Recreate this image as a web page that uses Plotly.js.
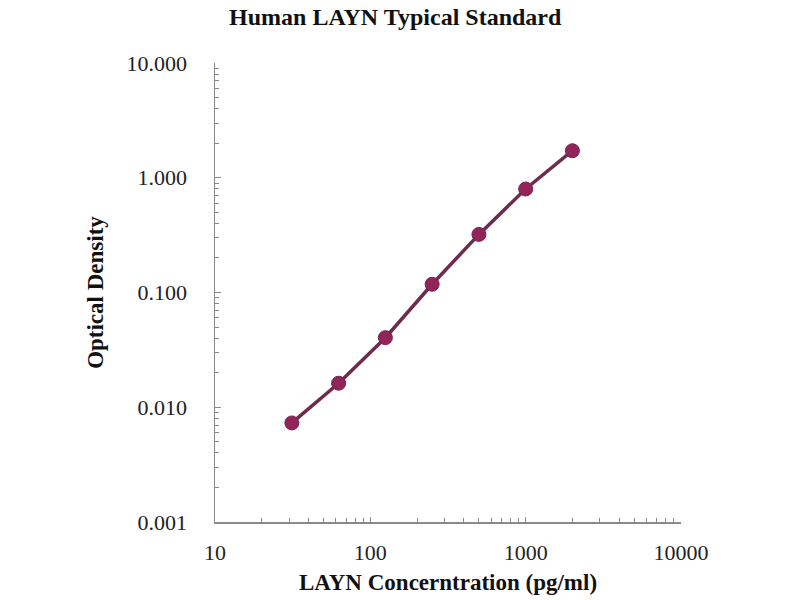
<!DOCTYPE html>
<html>
<head>
<meta charset="utf-8">
<script src="https://cdn.plot.ly/plotly-3.0.1.min.js"></script>
<style>html,body{margin:0;padding:0;background:#fff;}#chart{width:800px;height:600px;}</style>
</head>
<body>
<div id="chart"></div>
<script>
const concentration = [31.25, 62.5, 125, 250, 500, 1000, 2000];
const opticalDensity = [0.0073, 0.0162, 0.0404, 0.118, 0.321, 0.798, 1.72];
const yTickVals = [0.001, 0.01, 0.1, 1, 10];
const xTickVals = [10, 100, 1000, 10000];

const serif = "Liberation Serif, Times New Roman, serif";

const traces = [{
  x: concentration,
  y: opticalDensity,
  mode: 'lines+markers',
  type: 'scatter',
  line: {color: '#6e2b4c', width: 3.5},
  marker: {color: '#912559', size: 14, line: {color: '#7a2350', width: 1}},
  showlegend: false,
  hoverinfo: 'x+y'
}];

const layout = {
  width: 800, height: 600,
  paper_bgcolor: '#fff', plot_bgcolor: '#fff',
  margin: {l: 215, r: 119, t: 63, b: 78},
  title: {text: '<b>Human LAYN Typical Standard</b>', x: 0.494, xanchor: 'center', y: 0.972, yanchor: 'middle',
          font: {family: serif, size: 24, color: '#111'}},
  xaxis: {
    type: 'log', range: [1, 4],
    tickvals: xTickVals, ticktext: xTickVals.map(String),
    showgrid: false, zeroline: false,
    showline: true, linecolor: '#8a8a8a', linewidth: 1.5,
    ticks: 'inside', ticklen: 5, tickcolor: '#8a8a8a',
    minor: {ticks: 'inside', ticklen: 4, tickcolor: '#8a8a8a', dtick: 'D1', showgrid: false},
    ticklabelstandoff: 10,
    tickfont: {family: serif, size: 22, color: '#222'},
    title: {text: '<b>LAYN Concerntration (pg/ml)</b>', standoff: 10, font: {family: serif, size: 23, color: '#111'}}
  },
  yaxis: {
    type: 'log', range: [-3, 1],
    tickvals: yTickVals, ticktext: yTickVals.map(v => v.toFixed(3)),
    showgrid: false, zeroline: false,
    showline: true, linecolor: '#8a8a8a', linewidth: 1.5,
    ticks: 'inside', ticklen: 6, tickcolor: '#8a8a8a',
    minor: {ticks: 'inside', ticklen: 4, tickcolor: '#8a8a8a', dtick: 'D1', showgrid: false},
    ticklabelstandoff: 22,
    tickfont: {family: serif, size: 22, color: '#222'},
    title: {text: '<b>Optical Density</b>', standoff: 16, font: {family: serif, size: 23, color: '#111'}}
  }
};

Plotly.newPlot('chart', traces, layout, {displayModeBar: false, staticPlot: true});
</script>
</body>
</html>
